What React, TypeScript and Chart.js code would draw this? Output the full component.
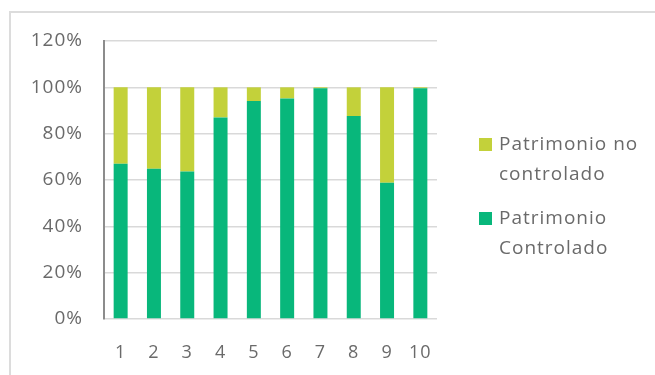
import React, { useEffect, useRef } from "react";
import { Chart, registerables } from "chart.js";

Chart.register(...registerables);

const categories = ["1", "2", "3", "4", "5", "6", "7", "8", "9", "10"];
const controlado = [67.0, 64.9, 63.7, 87.0, 94.1, 95.2, 99.6, 87.6, 58.8, 99.6];
const noControlado = [33.0, 35.1, 36.3, 13.0, 5.9, 4.8, 0.4, 12.4, 41.2, 0.4];
const yTicks = [0, 20, 40, 60, 80, 100, 120];
const legendItems = [
  { lines: ["Patrimonio no", "controlado"], color: "#C3D13A" },
  { lines: ["Patrimonio", "Controlado"], color: "#08B77B" },
];

const FONT = "'Open Sans', sans-serif";
const TEXT = "#6A6A6A";

// Slightly open letter spacing for all chart text
const spacing = {
  id: "spacing",
  beforeDraw(chart: any) {
    chart.ctx.letterSpacing = "1px";
  },
};

const sideLegend = {
  id: "sideLegend",
  afterDraw(chart: any) {
    const ctx = chart.ctx;
    ctx.save();
    ctx.letterSpacing = "1px";
    ctx.font = `19px ${FONT}`;
    ctx.textBaseline = "middle";
    ctx.textAlign = "left";
    let y = 145;
    legendItems.forEach((item) => {
      ctx.fillStyle = item.color;
      ctx.fillRect(479, y - 7, 13, 13);
      ctx.fillStyle = TEXT;
      item.lines.forEach((line, i) => {
        ctx.fillText(line, 499, y + i * 30);
      });
      y += 74;
    });
    ctx.restore();
  },
};

export default function App() {
  const ref = useRef<HTMLCanvasElement>(null);

  useEffect(() => {
    if (!ref.current) return;
    const chart = new Chart(ref.current, {
      type: "bar",
      data: {
        labels: categories,
        datasets: [
          {
            label: "Patrimonio Controlado",
            data: controlado,
            backgroundColor: legendItems[1].color,
            barPercentage: 0.42,
            categoryPercentage: 1,
          },
          {
            label: "Patrimonio no controlado",
            data: noControlado,
            backgroundColor: legendItems[0].color,
            barPercentage: 0.42,
            categoryPercentage: 1,
          },
        ],
      },
      options: {
        responsive: false,
        animation: false,
        layout: { padding: { left: 0, right: 218, top: 41, bottom: 0 } },
        plugins: {
          legend: { display: false },
          tooltip: { enabled: false },
        },
        scales: {
          x: {
            stacked: true,
            grid: { display: false, drawTicks: false },
            border: { display: false },
            ticks: {
              color: TEXT,
              font: { family: FONT, size: 18 },
              padding: 23,
            },
            afterFit(scale: any) {
              scale.height = 56;
            },
          },
          y: {
            stacked: true,
            min: 0,
            max: 120,
            afterBuildTicks(scale: any) {
              scale.ticks = yTicks.map((v) => ({ value: v }));
            },
            grid: { color: "#D9D9D9", lineWidth: 1.5, drawTicks: false },
            border: { display: true, color: "#8C8C8C", width: 2 },
            ticks: {
              color: TEXT,
              font: { family: FONT, size: 19 },
              padding: 21,
              callback: (v: any) => `${v}%`,
            },
            afterFit(scale: any) {
              scale.width = 104;
            },
          },
        },
      },
      plugins: [spacing, sideLegend],
    });
    return () => chart.destroy();
  }, []);

  return (
    <div
      style={{
        position: "fixed",
        left: 0,
        top: 0,
        width: 655,
        height: 375,
        overflow: "hidden",
        background: "#fff",
      }}
    >
      <div
        style={{
          position: "absolute",
          left: 9,
          top: 11,
          width: 700,
          height: 400,
          border: "2px solid #DCDCDC",
          boxSizing: "border-box",
        }}
      />
      <canvas
        ref={ref}
        width={655}
        height={375}
        style={{ position: "absolute", left: 0, top: 0 }}
      />
    </div>
  );
}
